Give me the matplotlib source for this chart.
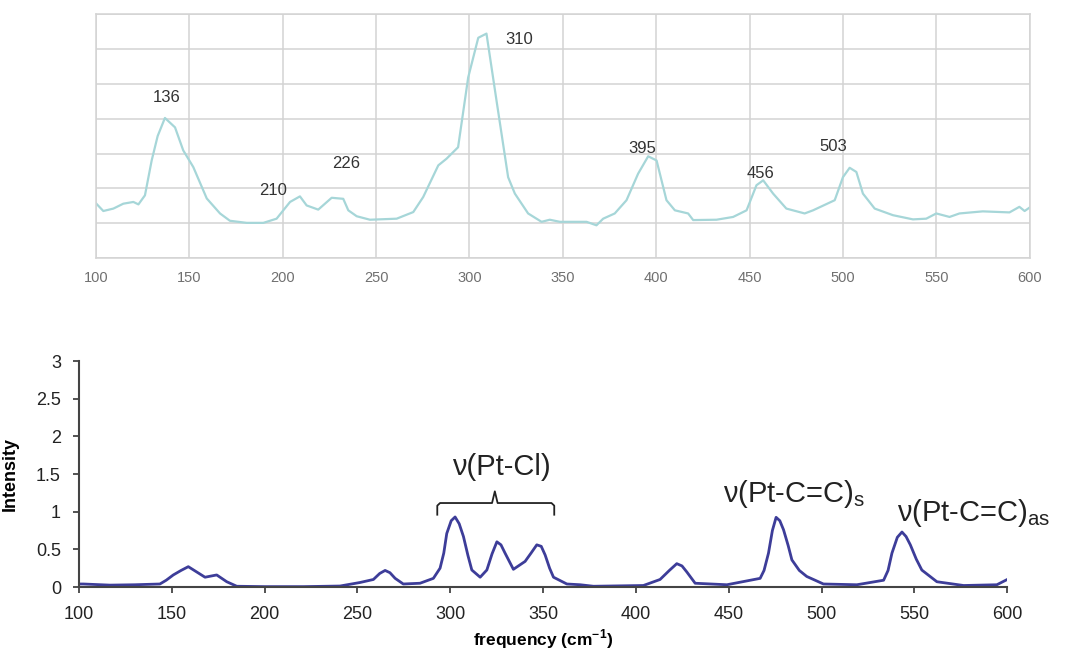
import matplotlib.pyplot as plt
from matplotlib.ticker import MultipleLocator

# top spectrum (experimental), grid units 0..7
topX = [100, 103.9, 109.3, 114.6, 120, 122.7, 126.2, 129.8, 133, 136.9, 142.3, 146.7, 152.1,
        159.3, 166.4, 171.7, 180.7, 189.6, 196.7, 203.9, 209.2, 212.8, 219, 226.2, 232.4,
        235.1, 239.6, 246.7, 261, 269.9, 275.2, 283.3, 287.7, 293.9, 299.3, 304.7, 309.1,
        314.5, 320.7, 324.3, 331.4, 338.6, 343, 348.4, 362.7, 368, 371.6, 377.8, 384.1,
        390.3, 395.7, 400.2, 405.5, 410, 417.1, 419.8, 432.3, 441.2, 448.4, 453.7, 457.3,
        462.6, 469.7, 479.5, 484, 495.6, 500, 503.6, 507.2, 510.7, 517, 526.8, 537.5,
        544.6, 550, 557.1, 562.4, 574.9, 589.2, 594.5, 597.3, 600]
topY = [1.57, 1.35, 1.42, 1.56, 1.61, 1.54, 1.8, 2.8, 3.5, 4.02, 3.75, 3.09, 2.61,
        1.71, 1.28, 1.07, 1.01, 1.01, 1.13, 1.61, 1.77, 1.51, 1.39, 1.73, 1.70,
        1.37, 1.2, 1.10, 1.13, 1.32, 1.75, 2.66, 2.85, 3.18, 5.18, 6.32, 6.44,
        4.51, 2.32, 1.85, 1.28, 1.04, 1.10, 1.04, 1.04, 0.94, 1.13, 1.28, 1.66,
        2.42, 2.92, 2.8, 1.66, 1.37, 1.28, 1.09, 1.1, 1.18, 1.37, 2.09, 2.23,
        1.85, 1.42, 1.28, 1.37, 1.66, 2.32, 2.59, 2.47, 1.85, 1.42, 1.23, 1.11,
        1.13, 1.28, 1.18, 1.28, 1.34, 1.31, 1.47, 1.35, 1.45]
topPeaks = ['136', '210', '226', '310', '395', '456', '503']
topPeakX = [138, 194.8, 233.8, 326.4, 392.3, 456, 495]
topPeakY = [4.6, 1.94, 2.71, 6.26, 3.14, 2.43, 3.2]

# bottom spectrum (calculated)
botX = [100, 102.3, 116.7, 130, 143.6, 147, 150.8, 155, 158.9, 163.4, 167.9, 171, 174.2,
        179.6, 185, 200, 221, 240.6, 251.4, 258.6, 262, 264.9, 267.5, 270.3, 274.7,
        283.7, 290.9, 294.5, 296.5, 298.1, 300.5, 302.6, 304.8, 307.1, 309.5, 311.6,
        316.1, 319.7, 322.5, 325.1, 327.3, 329.5, 334, 340.3, 343.5, 346.6, 349, 351.1,
        353.5, 355.6, 362.8, 370, 377.1, 404, 413, 418, 422, 424.8, 427.4, 431.9,
        449, 466.9, 469, 471.4, 473.5, 475.5, 477.5, 479.5, 482, 484, 488, 492, 501,
        519, 533.4, 535.8, 537.9, 540.8, 543.3, 545.5, 547.8, 551, 554, 562.1, 576.5,
        594.4, 600]
botY = [0.04, 0.04, 0.025, 0.03, 0.04, 0.09, 0.16, 0.22, 0.27, 0.2, 0.13, 0.145, 0.16,
        0.07, 0.01, 0.005, 0.005, 0.013, 0.06, 0.10, 0.18, 0.22, 0.19, 0.115, 0.04,
        0.05, 0.115, 0.25, 0.45, 0.71, 0.88, 0.93, 0.84, 0.67, 0.42, 0.226,
        0.13, 0.226, 0.44, 0.60, 0.56, 0.45, 0.235, 0.34, 0.45, 0.56, 0.54, 0.425,
        0.25, 0.13, 0.04, 0.03, 0.01, 0.02, 0.10, 0.22, 0.31, 0.28, 0.2, 0.05,
        0.03, 0.115, 0.22, 0.45, 0.75, 0.925, 0.88, 0.76, 0.55, 0.36, 0.22, 0.14, 0.04,
        0.03, 0.09, 0.22, 0.45, 0.66, 0.73, 0.67, 0.56, 0.37, 0.225, 0.07, 0.02,
        0.03, 0.1]

fig = plt.figure(figsize=(10.67, 6.55), dpi=100)
plt.rcParams['font.family'] = ['Liberation Sans', 'DejaVu Sans']
plt.rcParams['mathtext.fontset'] = 'custom'
plt.rcParams['mathtext.rm'] = 'Liberation Sans'
plt.rcParams['mathtext.bf'] = 'Liberation Sans:bold'

# ---- top panel
ax1 = fig.add_axes([0.09, 0.606, 0.875, 0.3725])
gridColor = '#d3d3d3'
ax1.plot(topX, topY, color='#a6d6d8', lw=1.6)
ax1.set_xlim(100, 600)
ax1.set_ylim(0, 7)
ax1.xaxis.set_major_locator(MultipleLocator(50))
ax1.yaxis.set_major_locator(MultipleLocator(1))
ax1.grid(True, color=gridColor, lw=1.1)
ax1.set_axisbelow(True)
for s in ax1.spines.values():
    s.set_color(gridColor)
    s.set_linewidth(1.1)
ax1.tick_params(axis='both', length=0, labelsize=10.5, labelcolor='#707070', pad=9)
ax1.set_yticklabels([])
for lbl, x, y in zip(topPeaks, topPeakX, topPeakY):
    ax1.text(x, y, lbl, fontsize=12, color='#333333', ha='center', va='center')

# ---- bottom panel
ax2 = fig.add_axes([0.074, 0.1038, 0.87, 0.345])
ax2.plot(botX, botY, color='#3d3d99', lw=2)
ax2.set_xlim(100, 600)
ax2.set_ylim(0, 3)
ax2.xaxis.set_major_locator(MultipleLocator(50))
ax2.set_yticks([0, 0.5, 1, 1.5, 2, 2.5, 3])
ax2.set_yticklabels(['0', '0.5', '1', '1.5', '2', '2.5', '3'])
ax2.spines['top'].set_visible(False)
ax2.spines['right'].set_visible(False)
for s in ['left', 'bottom']:
    ax2.spines[s].set_color('#444444')
    ax2.spines[s].set_linewidth(1.5)
ax2.tick_params(axis='both', direction='out', length=4, width=1.3, color='#444444',
                labelsize=13, labelcolor='#222222')
ax2.tick_params(axis='x', pad=10)
ax2.tick_params(axis='y', pad=9)
ax2.set_xlabel('frequency (cm$^{\\mathbf{-1}}$)', fontsize=12.5, fontweight='bold', labelpad=3)
ax2.set_ylabel('Intensity', fontsize=13, fontweight='bold', labelpad=12)

# bracket over the Pt-Cl band
bx = [293, 293, 294.5, 322.5, 324, 325.5, 354.5, 356, 356]
by = [0.96, 1.08, 1.115, 1.115, 1.27, 1.115, 1.115, 1.08, 0.96]
ax2.plot(bx, by, color='#222222', lw=1.3)
ax2.text(300.8, 1.49, '\u03bd(Pt-Cl)', fontsize=21, ha='left', va='baseline', color='#222222')
ax2.text(447, 1.13, '\u03bd(Pt-C=C)$_\\mathregular{s}$', fontsize=21, ha='left', va='baseline',
         color='#222222')
ax2.text(540.7, 0.87, '\u03bd(Pt-C=C)$_\\mathregular{as}$', fontsize=21, ha='left', va='baseline',
         color='#222222')

fig.savefig('out.png', dpi=100)
